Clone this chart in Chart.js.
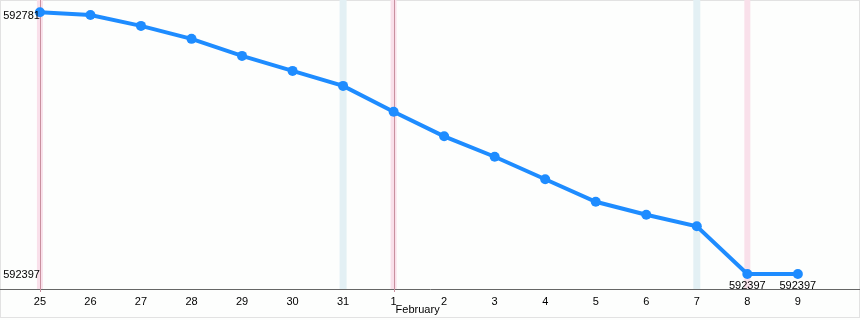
<!DOCTYPE html>
<html>
<head>
<meta charset="utf-8">
<script src="https://cdn.jsdelivr.net/npm/chart.js@4"></script>
<style>
    html, body { margin: 0; padding: 0; background: #fff; }
    #wrap { width: 860px; height: 320px; position: relative; }
</style>
</head>
<body>
<div id="wrap"><canvas id="chart"></canvas></div>
<script>
// Chart data
const dayLabels = ['25', '26', '27', '28', '29', '30', '31', '1', '2', '3', '4', '5', '6', '7', '8', '9'];
const values = [592781, 592777, 592761, 592742, 592717, 592695, 592673, 592635,
                592599, 592569, 592536, 592503, 592484, 592467, 592397, 592397];
const monthLabel = 'February';
const monthStartIndex = 7;
const weekendIndexes = [6, 13];
const markedIndexes = [0, 7, 14];
const lineIndexes = [0, 7];

const minValue = Math.min(...values);
const maxValue = Math.max(...values);
const FONT = '11px "Liberation Sans", Arial, sans-serif';

// Background, border, day bands and text labels
const bandsPlugin = {
    id: 'bands',
    beforeDraw(chart) {
        const ctx = chart.ctx;
        ctx.save();
        ctx.fillStyle = '#fdfefd';
        ctx.fillRect(0, 0, chart.width, chart.height);
        ctx.strokeStyle = '#e2e2e2';
        ctx.lineWidth = 1;
        ctx.strokeRect(0.5, 0.5, chart.width - 1, chart.height - 3);
        ctx.restore();
    },
    beforeDatasetsDraw(chart) {
        const ctx = chart.ctx;
        const x = chart.scales.x;
        const area = chart.chartArea;
        ctx.save();
        weekendIndexes.forEach(i => {
            const px = x.getPixelForValue(i);
            ctx.fillStyle = '#e3f0f4';
            ctx.fillRect(px - 3.5, area.top, 7, area.bottom - area.top);
        });
        markedIndexes.forEach(i => {
            const px = x.getPixelForValue(i);
            ctx.fillStyle = '#f9e0ea';
            ctx.fillRect(px - 3, area.top, 6, area.bottom - area.top);
        });
        lineIndexes.forEach(i => {
            const px = Math.round(x.getPixelForValue(i)) + 0.5;
            ctx.strokeStyle = '#c9909f';
            ctx.lineWidth = 1;
            ctx.beginPath();
            ctx.moveTo(px, area.top);
            ctx.lineTo(px, area.bottom + 3);
            ctx.stroke();
        });
        ctx.restore();
    },
    afterDatasetsDraw(chart) {
        const ctx = chart.ctx;
        const x = chart.scales.x;
        const y = chart.scales.y;
        ctx.save();
        ctx.font = FONT;
        ctx.fillStyle = '#000';

        // y labels at the data min and max, right aligned to the first day
        ctx.textAlign = 'right';
        ctx.textBaseline = 'middle';
        const left = x.getPixelForValue(0);
        ctx.fillText(String(maxValue), left, Math.max(y.getPixelForValue(maxValue) + 3, 16));
        ctx.fillText(String(minValue), left, y.getPixelForValue(minValue) + 1);

        // value labels under the lowest points
        ctx.textAlign = 'center';
        ctx.textBaseline = 'top';
        values.forEach((v, i) => {
            if (v === minValue) {
                ctx.fillText(String(v), x.getPixelForValue(i), y.getPixelForValue(v) + 6);
            }
        });

        // month name under its first day
        ctx.textAlign = 'left';
        ctx.fillText(monthLabel, x.getPixelForValue(monthStartIndex) + 2, 304);
        ctx.restore();
    }
};

new Chart(document.getElementById('chart'), {
    type: 'line',
    data: {
        datasets: [{
            data: values.map((v, i) => ({ x: i, y: v })),
            borderColor: '#1e8cff',
            backgroundColor: '#1e8cff',
            borderWidth: 4,
            pointRadius: 5,
            pointBorderWidth: 0,
            pointHoverRadius: 5,
            tension: 0,
            fill: false,
            clip: false
        }]
    },
    options: {
        responsive: true,
        maintainAspectRatio: false,
        animation: false,
        layout: { padding: 0, autoPadding: false },
        plugins: {
            legend: { display: false },
            tooltip: { enabled: false }
        },
        scales: {
            x: {
                type: 'linear',
                min: -0.79,
                max: 16.23,
                afterBuildTicks: scale => {
                    scale.ticks = dayLabels.map((_, i) => ({ value: i }));
                },
                afterFit: scale => { scale.height = 31; },
                grid: { display: false, drawTicks: false },
                border: { display: true, color: '#666', width: 1 },
                ticks: {
                    autoSkip: false,
                    maxRotation: 0,
                    padding: 6,
                    color: '#000',
                    font: { family: '"Liberation Sans", Arial, sans-serif', size: 11 },
                    callback: value => dayLabels[value] ?? ''
                }
            },
            y: {
                display: false,
                min: 592375,
                max: 592799
            }
        }
    },
    plugins: [bandsPlugin]
});
</script>
</body>
</html>
